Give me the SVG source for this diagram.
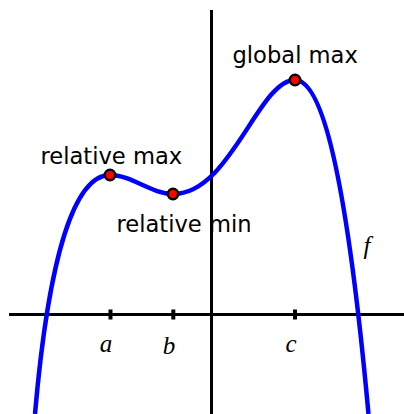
<svg xmlns="http://www.w3.org/2000/svg" width="404" height="414" viewBox="0 0 404 414">
<style>
.axis{stroke:#000;stroke-width:3;fill:none}
.tick{fill:#000}
.curve{stroke:#0000ff;stroke-width:4.5;fill:none;stroke-linecap:butt}
.dot{fill:#ff0000;stroke:#000;stroke-width:2.5}
.lbl{font-family:"DejaVu Sans",sans-serif;font-size:22.6px;fill:#000}
.var{font-family:"Liberation Serif",serif;font-style:italic;font-size:25px;fill:#000}
</style>
<rect width="404" height="414" fill="#fff"/>
<g id="connectors">
<line class="axis" x1="9" y1="314.5" x2="404" y2="314.5"/>
<line class="axis" x1="211.5" y1="10" x2="211.5" y2="414"/>
<rect class="tick" x="108.5" y="309.5" width="4" height="10"/>
<rect class="tick" x="171.3" y="309.5" width="4" height="10"/>
<rect class="tick" x="293" y="309.5" width="4" height="10"/>
<path id="f" class="curve" d="M35,414 C49,253 75,175 110,175 C131,175 152,194 173,194 C230.6,194 258.4,80 295,80 C317,80 343.5,141.5 368.5,414"/>
</g>
<g id="relmax"><circle class="dot" cx="110" cy="175" r="5.2"/><text class="lbl" x="40.5" y="164">relative max</text></g>
<g id="relmin"><circle class="dot" cx="173" cy="194" r="5.2"/><text class="lbl" x="116.5" y="232">relative min</text></g>
<g id="globalmax"><circle class="dot" cx="295" cy="80" r="5.2"/><text class="lbl" x="232.5" y="63">global max</text></g>
<g id="labels">
<text class="var" x="106" y="352" text-anchor="middle">a</text>
<text class="var" x="169" y="354" text-anchor="middle">b</text>
<text class="var" x="291" y="352" text-anchor="middle">c</text>
<text class="var" x="367" y="254" text-anchor="middle">f</text>
</g>
</svg>
